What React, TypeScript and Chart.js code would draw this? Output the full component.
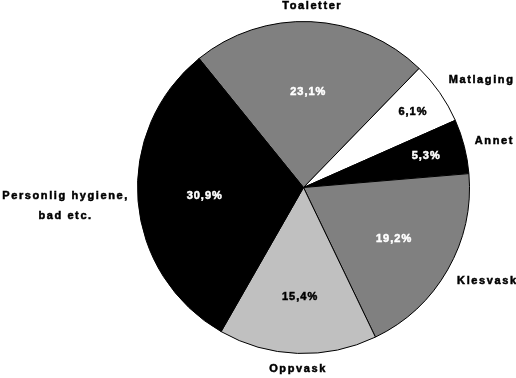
import React, { useEffect, useRef } from "react";
import { Chart, registerables } from "chart.js";

Chart.register(...registerables);

const categories: string[][] = [
  ["Toaletter"],
  ["Matlaging"],
  ["Annet"],
  ["Klesvask"],
  ["Oppvask"],
  ["Personlig hygiene,", "bad etc."],
];
const shares: number[] = [23.1, 6.1, 5.3, 19.2, 15.4, 30.9];
const sliceColors: string[] = ["#808080", "#ffffff", "#000000", "#808080", "#c0c0c0", "#000000"];
const pctColors: string[] = ["#ffffff", "#000000", "#ffffff", "#ffffff", "#000000", "#ffffff"];
const pctRadius: number[] = [0.575, 0.8, 0.76, 0.625, 0.66, 0.6];

const fmt = (v: number) => v.toFixed(1).replace(".", ",") + "%";

function drawText(ctx: CanvasRenderingContext2D, t: string, x: number, y: number, color: string) {
  ctx.fillStyle = color;
  ctx.strokeStyle = color;
  ctx.lineWidth = 0.5;
  ctx.fillText(t, x, y);
  ctx.strokeText(t, x, y);
}

const labelPlugin = {
  id: "pieLabels",
  afterDraw(chart: any) {
    const ctx = chart.ctx as CanvasRenderingContext2D;
    const meta = chart.getDatasetMeta(0);
    ctx.save();
    meta.data.forEach((arc: any, i: number) => {
      const { x, y, startAngle, endAngle, outerRadius } = arc.getProps(
        ["x", "y", "startAngle", "endAngle", "outerRadius"],
        true
      );
      const mid = (startAngle + endAngle) / 2;
      const c = Math.cos(mid);
      const s = Math.sin(mid);
      // percentage inside
      ctx.font = "bold 11px Arial, 'Liberation Sans', sans-serif";
      (ctx as any).letterSpacing = "1px";
      ctx.textAlign = "center";
      ctx.textBaseline = "middle";
      const pr = outerRadius * pctRadius[i];
      drawText(ctx, fmt(shares[i]), x + c * pr + 0.5, y + s * pr, pctColors[i]);
      // category outside
      (ctx as any).letterSpacing = "1.6px";
      const r2 = outerRadius + 10;
      const px = x + c * r2;
      const side = Math.abs(c) >= 0.3;
      const py = y + s * r2 + s * (side ? 12 : 6);
      const lines = categories[i];
      const lh = 20;
      const widths = lines.map((l) => ctx.measureText(l).width);
      const maxW = Math.max(...widths);
      let cx: number;
      if (!side) cx = px;
      else if (c > 0) cx = px + maxW / 2;
      else cx = px - maxW / 2;
      const y0 = py - ((lines.length - 1) * lh) / 2 + (lines.length > 1 ? 3 : 0);
      ctx.textAlign = "center";
      lines.forEach((l, k) => {
        drawText(ctx, l, cx + 0.8, y0 + k * lh, "#000");
      });
    });
    ctx.restore();
  },
};

export default function App() {
  const ref = useRef<HTMLCanvasElement | null>(null);
  useEffect(() => {
    if (!ref.current) return;
    const chart = new Chart(ref.current, {
      type: "pie",
      data: {
        labels: categories.map((c) => c.join(" ")),
        datasets: [
          {
            data: shares,
            backgroundColor: sliceColors,
            borderColor: "#000000",
            borderWidth: 1,
            hoverOffset: 0,
          },
        ],
      },
      options: {
        responsive: false,
        animation: false,
        rotation: -39,
        layout: { padding: { left: 137, right: 46, top: 21, bottom: 24 } },
        plugins: {
          legend: { display: false },
          tooltip: { enabled: false },
        },
        events: [],
      },
      plugins: [labelPlugin],
    });
    return () => chart.destroy();
  }, []);
  return (
    <div style={{ position: "fixed", left: 0, top: 0, width: 516, height: 378, background: "#fff" }}>
      <canvas ref={ref} width={516} height={378} style={{ display: "block" }} />
    </div>
  );
}
